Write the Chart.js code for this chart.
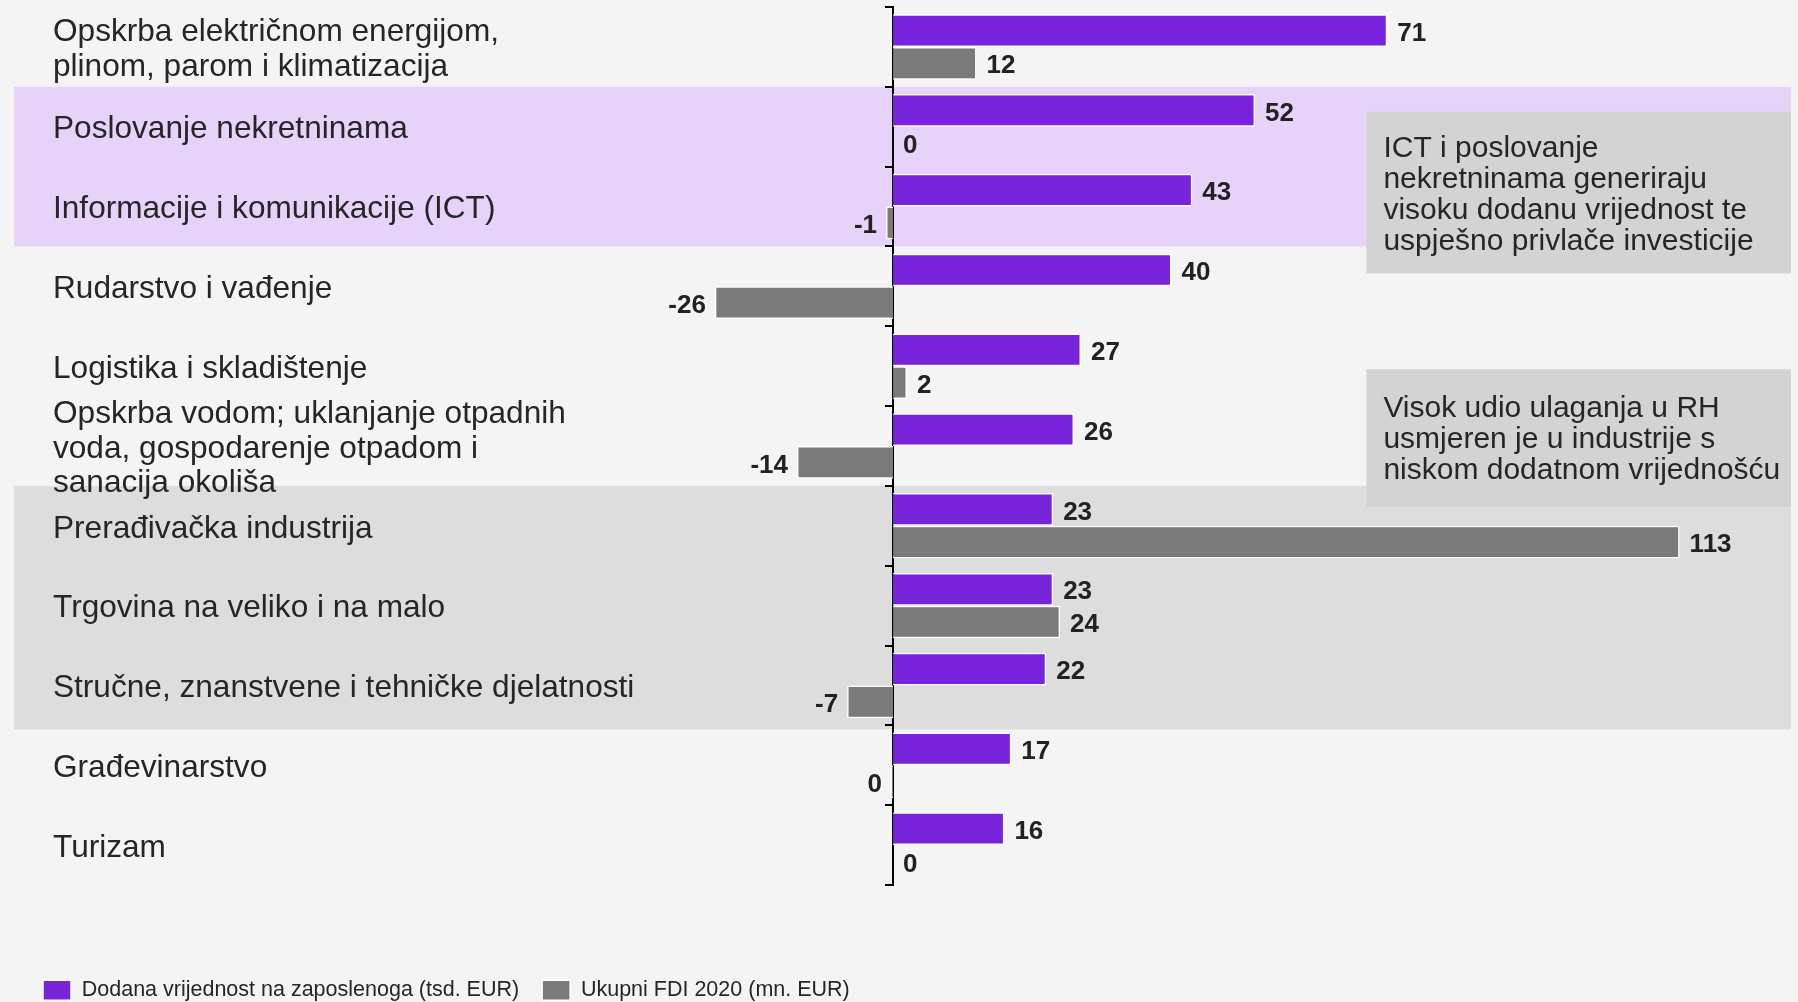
<!DOCTYPE html>
<html>
<head>
<meta charset="utf-8">
<script src="https://cdn.jsdelivr.net/npm/chart.js@4/dist/chart.umd.min.js"></script>
<style>
html,body{margin:0;padding:0;background:#f4f4f4;overflow:hidden}
canvas{display:block}
</style>
</head>
<body>
<canvas id="c" width="1798" height="1002"></canvas>
<script>
// ---- data ----
const categories = [
  ['Opskrba električnom energijom,', 'plinom, parom i klimatizacija'],
  'Poslovanje nekretninama',
  'Informacije i komunikacije (ICT)',
  'Rudarstvo i vađenje',
  'Logistika i skladištenje',
  ['Opskrba vodom; uklanjanje otpadnih', 'voda, gospodarenje otpadom i', 'sanacija okoliša'],
  'Prerađivačka industrija',
  'Trgovina na veliko i na malo',
  'Stručne, znanstvene i tehničke djelatnosti',
  'Građevinarstvo',
  'Turizam'
];
const addedValuePerEmployee = [71, 52, 43, 40, 27, 26, 23, 23, 22, 17, 16];
const totalFdi2020 = [12, 0, -1, -25.6, 2, -13.8, 113, 24, -6.6, -0.3, 0];
const seriesNames = ['Dodana vrijednost na zaposlenoga (tsd. EUR)', 'Ukupni FDI 2020 (mn. EUR)'];
const purpleBand = [1, 2];   // first and last highlighted category
const grayBand = [6, 8];
const noteHigh = ['ICT i poslovanje', 'nekretninama generiraju', 'visoku dodanu vrijednost te', 'uspješno privlače investicije'];
const noteLow = ['Visok udio ulaganja u RH', 'usmjeren je u industrije s', 'niskom dodatnom vrijednošću'];

// ---- styles ----
const FONT = '"Liberation Sans", Arial, sans-serif';
const PURPLE = '#7724db';
const GRAY = '#7a7a7a';
const TEXT = '#262626';

const decor = {
  id: 'decor',
  afterLayout(chart) {
    const ys = chart.scales.y;
    ys.left = 53;
    ys.right = chart.chartArea.left + 120;
    chart.legend.top += 9;
    chart.legend.bottom += 9;
  },
  beforeDraw(chart) {
    const {ctx, chartArea, scales: {x, y}} = chart;
    ctx.save();
    ctx.fillStyle = '#f4f4f4';
    ctx.fillRect(0, 0, chart.width, chart.height);
    const step = (y.bottom - y.top) / categories.length;
    const boundary = i => y.getPixelForValue(i) - step / 2;
    const bandLeft = 14;
    ctx.fillStyle = '#e7d3fa';
    ctx.fillRect(bandLeft, boundary(purpleBand[0]), chartArea.right - bandLeft, boundary(purpleBand[1] + 1) - boundary(purpleBand[0]));
    ctx.fillStyle = '#dddddd';
    ctx.fillRect(bandLeft, boundary(grayBand[0]), chartArea.right - bandLeft, boundary(grayBand[1] + 1) + 4 - boundary(grayBand[0]));

    const boxLeft = x.getPixelForValue(68);
    const drawNote = (lines, top, bottom, shift) => {
      ctx.fillStyle = '#d3d3d3';
      ctx.fillRect(boxLeft, top, chartArea.right - boxLeft, bottom - top);
      ctx.fillStyle = TEXT;
      ctx.font = '30px ' + FONT;
      ctx.textAlign = 'left';
      ctx.textBaseline = 'middle';
      const lh = 31;
      const mid = (top + bottom) / 2 + shift;
      lines.forEach((t, i) => ctx.fillText(t, boxLeft + 17, mid + (i - (lines.length - 1) / 2) * lh));
    };
    drawNote(noteHigh, boundary(1) + 25, boundary(3) + 27, 3);
    drawNote(noteLow, boundary(4) + 43, boundary(6) + 21, 2);
    ctx.restore();
  }
};

const valueLabels = {
  id: 'valueLabels',
  afterDatasetsDraw(chart) {
    const {ctx} = chart;
    ctx.save();
    ctx.font = 'bold 26px ' + FONT;
    ctx.fillStyle = '#222222';
    ctx.textBaseline = 'middle';
    chart.data.datasets.forEach((ds, di) => {
      chart.getDatasetMeta(di).data.forEach((bar, i) => {
        const v = ds.data[i];
        const txt = String(Math.round(v));
        if (v < 0) {
          ctx.textAlign = 'right';
          ctx.fillText(txt, bar.x - 9, bar.y + 3);
        } else {
          ctx.textAlign = 'left';
          ctx.fillText(txt, bar.x + 10, bar.y + 3);
        }
      });
    });
    ctx.restore();
  }
};

new Chart(document.getElementById('c'), {
  type: 'bar',
  data: {
    labels: categories,
    datasets: [
      {label: seriesNames[0], data: addedValuePerEmployee, backgroundColor: PURPLE, borderColor: '#ffffff', borderWidth: 1.5},
      {label: seriesNames[1], data: totalFdi2020, backgroundColor: GRAY, borderColor: '#ffffff', borderWidth: 1.5}
    ]
  },
  options: {
    indexAxis: 'y',
    responsive: false,
    animation: false,
    devicePixelRatio: 1,
    layout: {padding: {left: 20, right: 7, top: 7, bottom: 0}},
    datasets: {bar: {categoryPercentage: 0.82, barPercentage: 1.0}},
    plugins: {
      legend: {
        position: 'bottom',
        align: 'start',
        labels: {boxWidth: 28, boxHeight: 20, padding: 23, color: TEXT, font: {family: FONT, size: 21.5}}
      },
      tooltip: {enabled: false}
    },
    scales: {
      x: {
        type: 'linear', min: -40, max: 129, display: true,
        grid: {display: false}, border: {display: false}, ticks: {display: false},
        afterFit: s => { s.height = 62.5; }
      },
      y: {
        type: 'category', position: 'left', offset: true,
        grid: {display: false}, border: {display: false},
        ticks: {autoSkip: false, crossAlign: 'far', padding: 0, labelOffset: 3, color: TEXT, font: {family: FONT, size: 31.6, lineHeight: 1.09}},
        afterFit: s => { s.width = 594.6; s.paddingTop = 0; s.paddingBottom = 0; }
      },
      yAxisLine: {
        type: 'category', axis: 'y', position: {x: 0}, offset: true,
        grid: {display: true, offset: true, drawOnChartArea: false, drawTicks: true, tickLength: 7, color: '#000000', lineWidth: 2},
        border: {display: true, color: '#000000', width: 2},
        ticks: {display: false}
      }
    }
  },
  plugins: [decor, valueLabels]
});
</script>
</body>
</html>
